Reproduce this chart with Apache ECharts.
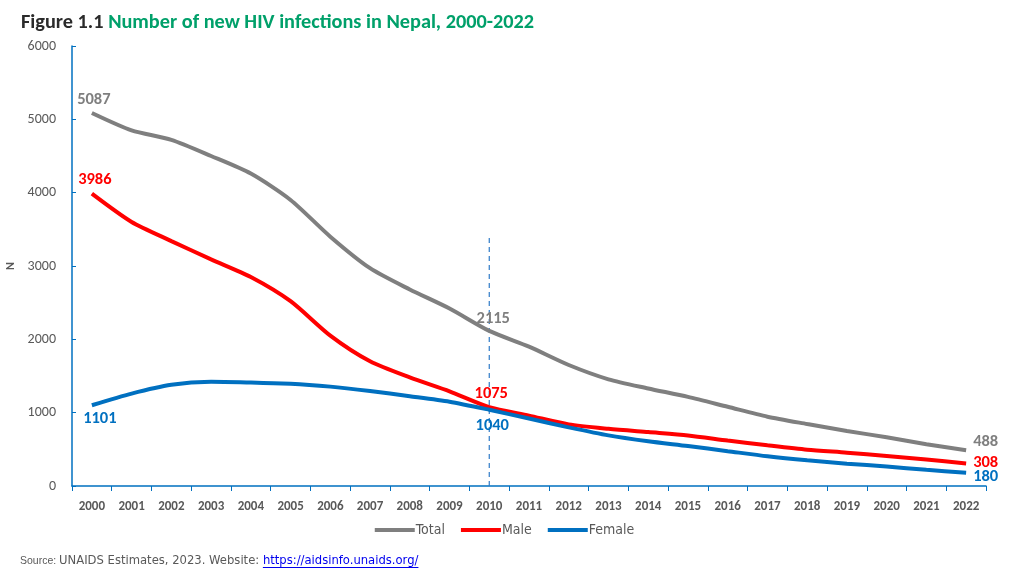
<!DOCTYPE html>
<html><head><meta charset="utf-8">
<script src="https://cdn.jsdelivr.net/npm/echarts@6/dist/echarts.min.js"></script>
<style>html,body{margin:0;padding:0;background:#fff}#c{width:1009px;height:574px}</style>
</head><body><div id="c"></div>
<script>
const years = ['2000','2001','2002','2003','2004','2005','2006','2007','2008','2009','2010','2011','2012','2013','2014','2015','2016','2017','2018','2019','2020','2021','2022'];
const total  = [5087,4850,4720,4500,4260,3900,3400,2970,2680,2420,2115,1900,1650,1455,1330,1215,1080,945,845,750,665,570,488];
const male   = [3986,3600,3340,3090,2850,2520,2050,1700,1480,1290,1075,960,840,780,735,690,620,555,495,455,410,360,308];
const female = [1101,1260,1380,1420,1410,1395,1355,1295,1225,1150,1040,920,800,690,610,545,475,405,350,305,265,220,180];
const yTicks = [0,1000,2000,3000,4000,5000,6000];
const labelled = [0,10,22];
const refYear = '2010';
const refTop = 3420;

const FONT = 'Carlito, Calibri, Lato, sans-serif';
const SRC_FONT0 = '10.5px "Liberation Sans Narrow", "Liberation Sans", sans-serif';
const SRC_FONT = '11.6px "DejaVu Sans", sans-serif';
const srcLead = 'Source: ';
const srcText = 'UNAIDS Estimates, 2023. Website: ';
const srcLink = 'https://aidsinfo.unaids.org/';

const mctx = document.createElement('canvas').getContext('2d');
mctx.font = SRC_FONT0;
const wLead = mctx.measureText(srcLead).width;
mctx.font = SRC_FONT;
const wSrc = mctx.measureText(srcText).width;
const wLink = mctx.measureText(srcLink).width;

function mk(values, color, pos) {
  return values.map((v, i) => {
    if (!labelled.includes(i)) return v;
    const p = pos[labelled.indexOf(i)];
    return { value: v, label: { show: true, position: p.position, offset: p.offset, color: color, fontWeight: 'bold', fontSize: 16.5, fontFamily: FONT, formatter: '{c}' } };
  });
}

const chart = echarts.init(document.getElementById('c'), null, { renderer: 'canvas' });
chart.setOption({
  animation: false,
  backgroundColor: '#fff',
  title: {
    left: 16, top: 8,
    text: '{a|Figure 1.1 }{b|Number of new HIV infections in Nepal, 2000-2022}',
    textStyle: {
      rich: {
        a: { fontSize: 20.3, fontWeight: 'bold', color: '#2b2b2b', fontFamily: FONT },
        b: { fontSize: 20.3, fontWeight: 'bold', color: '#00A06A', fontFamily: FONT }
      }
    }
  },
  grid: { left: 72, right: 23, top: 46, bottom: 88, containLabel: false, outerBoundsMode: 'none' },
  legend: {
    bottom: 32, left: 'center',
    icon: 'rect', itemWidth: 40, itemHeight: 4, itemGap: 16,
    textStyle: { color: '#595959', fontSize: 14, fontFamily: '"Liberation Sans Narrow", "DejaVu Sans Condensed", sans-serif', padding: [0, 0, 0, -4] },
    data: ['Total', 'Male', 'Female']
  },
  graphic: [{
    type: 'text', left: 20, top: 555,
    style: {
      text: '{h|' + srcLead + '}{s|' + srcText + '}{l|' + srcLink + '}',
      font: SRC_FONT,
      rich: {
        h: { fill: '#595959', font: SRC_FONT0 },
        s: { fill: '#595959', font: SRC_FONT },
        l: { fill: '#0000EE', font: SRC_FONT }
      }
    }
  }, {
    type: 'line', silent: true,
    shape: { x1: 20 + wLead + wSrc, y1: 567.5, x2: 20 + wLead + wSrc + wLink, y2: 567.5 },
    style: { stroke: '#0000EE', lineWidth: 1 }
  }],
  xAxis: {
    type: 'category', data: years, boundaryGap: true,
    axisLine: { lineStyle: { color: '#0070C0', width: 1.5 } },
    axisTick: { show: true, interval: 0, length: 5, lineStyle: { color: '#0070C0' } },
    axisLabel: { interval: 0, color: '#595959', fontWeight: 'bold', fontSize: 13, fontFamily: FONT, margin: 14 },
    splitLine: { show: false }
  },
  yAxis: {
    type: 'value', min: yTicks[0], max: yTicks[yTicks.length - 1], interval: 1000,
    name: 'N', nameLocation: 'middle', nameGap: 52, nameRotate: 90,
    nameTextStyle: { color: '#595959', fontWeight: 'bold', fontSize: 12, fontFamily: FONT },
    axisLine: { show: true, lineStyle: { color: '#0070C0', width: 1.5 } },
    axisTick: { show: true, length: 4, inside: true, lineStyle: { color: '#0070C0' } },
    axisLabel: { color: '#595959', fontSize: 14, fontFamily: FONT, margin: 16, formatter: v => String(v) },
    splitLine: { show: false }
  },
  series: [
    {
      name: 'Total', type: 'line', smooth: 0.25, showSymbol: true, symbol: 'circle', symbolSize: 0,
      lineStyle: { color: '#7F7F7F', width: 4 }, itemStyle: { color: '#7F7F7F' },
      data: mk(total, '#7F7F7F', [
        { position: 'top', offset: [2, 0] },
        { position: 'top', offset: [4, 1] },
        { position: 'right', offset: [2, -8] }
      ]),
      z: 3
    },
    {
      name: 'Male', type: 'line', smooth: 0.25, showSymbol: true, symbol: 'circle', symbolSize: 0,
      lineStyle: { color: '#FF0000', width: 4 }, itemStyle: { color: '#FF0000' },
      data: mk(male, '#FF0000', [
        { position: 'top', offset: [3, 0] },
        { position: 'top', offset: [2, 0] },
        { position: 'right', offset: [2, -1] }
      ]),
      z: 2
    },
    {
      name: 'Female', type: 'line', smooth: 0.25, showSymbol: true, symbol: 'circle', symbolSize: 0,
      lineStyle: { color: '#0070C0', width: 4 }, itemStyle: { color: '#0070C0' },
      data: mk(female, '#0070C0', [
        { position: 'bottom', offset: [8, 0] },
        { position: 'bottom', offset: [3, 3] },
        { position: 'right', offset: [2, 4] }
      ]),
      z: 4
    },
    {
      name: 'ref', type: 'line', symbol: 'none', silent: true, z: 1,
      lineStyle: { color: '#2F7BC8', width: 1.2, type: [5, 4] },
      data: [[refYear, 0], [refYear, refTop]],
      tooltip: { show: false }
    }
  ]
});
</script>
</body></html>
